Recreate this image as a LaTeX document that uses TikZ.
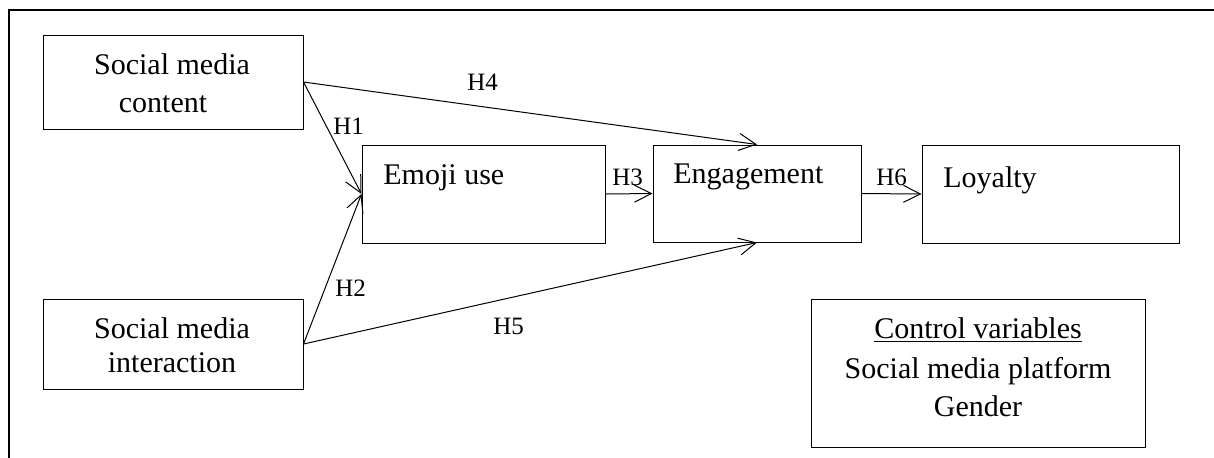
\documentclass[tikz,border=0pt]{standalone}
\usepackage{fontspec}
\setmainfont{Liberation Serif}
\usetikzlibrary{arrows.meta}
\tikzset{
  box/.style={draw, line width=0.5pt, inner sep=0pt},
  txt/.style={inner sep=0pt, font=\fontsize{15}{18}\selectfont},
  lab/.style={inner sep=0pt, font=\fontsize{12.5}{15}\selectfont},
  arr/.style={line width=0.5pt, -{Straight Barb[length=8.5pt,width=8.5pt]}},
  frame/.style={line width=0.65pt}
}
\begin{document}
\begin{tikzpicture}[x=0.5pt,y=-0.5pt]
\useasboundingbox (0,0) rectangle (1214,457);
\clip (0,0) rectangle (1214,457);
% outer frame
\draw[frame] (9,470) -- (9,10) -- (1230,10);
% boxes
\node[box, minimum width=130pt, minimum height=47pt] (smc) at (173,82) {};
\node[box, minimum width=130pt, minimum height=45pt] (smi) at (173,344) {};
\node[box, minimum width=121.5pt, minimum height=49pt] (emoji) at (483.5,194) {};
\node[box, minimum width=104pt, minimum height=48.5pt] (eng) at (757,193.5) {};
\node[box, minimum width=128.5pt, minimum height=49pt] (loy) at (1050.5,194) {};
\node[box, minimum width=167pt, minimum height=74pt] (ctrl) at (978,373) {};
% box texts
\node[txt, anchor=base] (smc1) at (172,74) {Social media};
\node[txt, anchor=base] (smc2) at (163,112) {content};
\node[txt, anchor=base] (smi1) at (172,338) {Social media};
\node[txt, anchor=base] (smi2) at (172,372) {interaction};
\node[txt, anchor=base west] (emojit) at (383,184) {Emoji use};
\node[txt, anchor=base west] (engt) at (673,183) {Engagement};
\node[txt, anchor=base west] (loyt) at (943,187) {Loyalty};
\node[txt, anchor=base] (ctrl1) at (978,338) {\underline{Control variables}};
\node[txt, anchor=base] (ctrl2) at (978,378) {Social media platform};
\node[txt, anchor=base] (ctrl3) at (978,416) {Gender};
% connectors
\draw[arr] (smc.east) -- (emoji.west);
\draw[arr] (smc.east) -- (eng.north);
\draw[arr] (smi.east) -- (emoji.west);
\draw[arr] (smi.east) -- (eng.south);
\draw[arr] (emoji.east) -- (eng.west);
\draw[arr] (eng.east) -- (loy.west);
% labels
\node[lab, anchor=base west] (h4) at (467,90) {H4};
\node[lab, anchor=base west] (h1) at (333,134) {H1};
\node[lab, anchor=base west] (h3) at (612,185) {H3};
\node[lab, anchor=base west] (h6) at (876,185) {H6};
\node[lab, anchor=base west] (h2) at (335,296) {H2};
\node[lab, anchor=base west] (h5) at (493,334) {H5};
\end{tikzpicture}
\end{document}
